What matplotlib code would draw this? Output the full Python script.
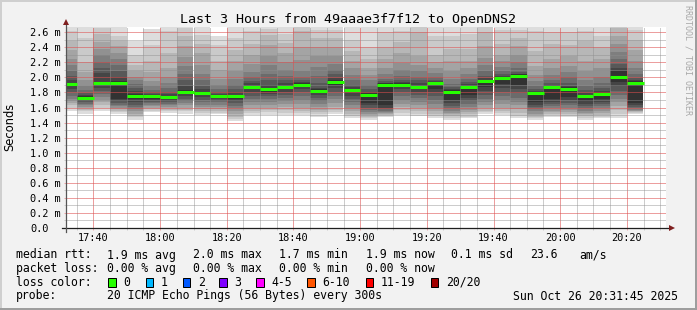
"""SmokePing style latency graph: last 3 hours from 49aaae3f7f12 to OpenDNS2."""
import matplotlib

matplotlib.use("Agg")
import matplotlib.dates as mdates
import matplotlib.pyplot as plt
import pandas as pd
from matplotlib.lines import Line2D
from matplotlib.patches import Rectangle
from matplotlib.ticker import MultipleLocator

W, H = 697, 310

SLOT_START = "2025-10-26 17:30"
VIEW_START = "2025-10-26 17:31:45"
VIEW_END = "2025-10-26 20:31:45"

# median rtt per 5 minute slot (ms)
MEDIAN_MS = [1.91, 1.73, 1.92, 1.93, 1.76, 1.75, 1.74, 1.81, 1.79, 1.75,
             1.75, 1.87, 1.84, 1.87, 1.90, 1.82, 1.94, 1.83, 1.77, 1.90,
             1.90, 1.87, 1.93, 1.81, 1.87, 1.95, 1.99, 2.02, 1.79, 1.87,
             1.85, 1.75, 1.78, 2.01, 1.93]

# the 10 fastest pings of each slot, sorted (ms)
LOW_MS = [
    [1.56, 1.60, 1.63, 1.66, 1.69, 1.72, 1.76, 1.80, 1.84, 1.88],
    [1.52, 1.55, 1.57, 1.59, 1.61, 1.63, 1.65, 1.67, 1.69, 1.71],
    [1.55, 1.60, 1.64, 1.67, 1.70, 1.74, 1.78, 1.82, 1.86, 1.90],
    [1.51, 1.54, 1.56, 1.58, 1.60, 1.62, 1.64, 1.66, 1.69, 1.72],
    [1.44, 1.47, 1.49, 1.52, 1.55, 1.58, 1.61, 1.64, 1.67, 1.71],
    [1.54, 1.56, 1.58, 1.60, 1.62, 1.64, 1.66, 1.68, 1.70, 1.72],
    [1.53, 1.55, 1.57, 1.59, 1.61, 1.63, 1.65, 1.67, 1.69, 1.71],
    [1.52, 1.55, 1.57, 1.60, 1.63, 1.66, 1.69, 1.72, 1.75, 1.78],
    [1.50, 1.53, 1.55, 1.58, 1.61, 1.64, 1.67, 1.70, 1.74, 1.77],
    [1.51, 1.53, 1.56, 1.58, 1.61, 1.64, 1.67, 1.69, 1.71, 1.73],
    [1.42, 1.45, 1.48, 1.52, 1.56, 1.59, 1.62, 1.66, 1.69, 1.72],
    [1.50, 1.53, 1.56, 1.60, 1.64, 1.68, 1.72, 1.76, 1.80, 1.84],
    [1.50, 1.54, 1.57, 1.60, 1.63, 1.67, 1.71, 1.75, 1.78, 1.81],
    [1.50, 1.53, 1.57, 1.61, 1.65, 1.69, 1.73, 1.77, 1.81, 1.84],
    [1.50, 1.53, 1.56, 1.60, 1.65, 1.70, 1.76, 1.81, 1.85, 1.87],
    [1.48, 1.51, 1.54, 1.57, 1.61, 1.65, 1.69, 1.73, 1.77, 1.80],
    [1.51, 1.54, 1.57, 1.61, 1.66, 1.71, 1.76, 1.81, 1.86, 1.90],
    [1.46, 1.49, 1.52, 1.55, 1.59, 1.63, 1.68, 1.72, 1.76, 1.80],
    [1.44, 1.46, 1.48, 1.50, 1.52, 1.54, 1.57, 1.60, 1.63, 1.66],
    [1.47, 1.49, 1.50, 1.52, 1.53, 1.54, 1.56, 1.58, 1.60, 1.63],
    [1.50, 1.53, 1.57, 1.61, 1.65, 1.70, 1.75, 1.80, 1.84, 1.87],
    [1.49, 1.52, 1.55, 1.59, 1.63, 1.68, 1.73, 1.77, 1.81, 1.84],
    [1.46, 1.49, 1.52, 1.56, 1.60, 1.65, 1.70, 1.75, 1.80, 1.85],
    [1.43, 1.46, 1.49, 1.51, 1.53, 1.56, 1.59, 1.62, 1.66, 1.70],
    [1.46, 1.48, 1.51, 1.54, 1.57, 1.61, 1.65, 1.69, 1.73, 1.77],
    [1.52, 1.54, 1.56, 1.59, 1.63, 1.67, 1.72, 1.77, 1.82, 1.87],
    [1.50, 1.53, 1.56, 1.60, 1.65, 1.70, 1.75, 1.81, 1.86, 1.91],
    [1.46, 1.49, 1.53, 1.58, 1.63, 1.68, 1.73, 1.79, 1.85, 1.90],
    [1.43, 1.46, 1.48, 1.50, 1.52, 1.55, 1.58, 1.61, 1.64, 1.68],
    [1.48, 1.50, 1.52, 1.54, 1.56, 1.59, 1.62, 1.65, 1.68, 1.72],
    [1.47, 1.49, 1.51, 1.54, 1.57, 1.60, 1.63, 1.66, 1.70, 1.74],
    [1.44, 1.46, 1.49, 1.51, 1.53, 1.56, 1.59, 1.62, 1.65, 1.69],
    [1.46, 1.48, 1.50, 1.53, 1.56, 1.59, 1.62, 1.65, 1.68, 1.72],
    [1.46, 1.52, 1.57, 1.62, 1.67, 1.72, 1.77, 1.82, 1.88, 1.94],
    [1.51, 1.53, 1.54, 1.55, 1.56, 1.57, 1.59, 1.61, 1.63, 1.66],
]

# the 10 slowest pings of each slot, sorted (ms)
HIGH_MS = [
    [1.93, 1.97, 2.02, 2.09, 2.16, 2.25, 2.36, 2.49, 2.62, 2.80],
    [1.75, 1.77, 1.79, 1.83, 1.88, 1.97, 2.07, 2.20, 2.52, 2.85],
    [1.94, 2.06, 2.13, 2.21, 2.30, 2.38, 2.47, 2.58, 2.66, 2.75],
    [1.95, 2.01, 2.08, 2.17, 2.25, 2.33, 2.42, 2.48, 2.55, 2.80],
    [1.78, 1.82, 1.86, 1.91, 1.96, 2.01, 2.08, 2.17, 2.30, 2.49],
    [1.77, 1.78, 1.80, 1.83, 1.88, 1.95, 2.07, 2.22, 2.43, 2.64],
    [1.76, 1.78, 1.81, 1.86, 1.92, 2.00, 2.12, 2.33, 2.62, 2.80],
    [1.83, 1.88, 1.96, 2.05, 2.15, 2.27, 2.42, 2.55, 2.66, 2.78],
    [1.81, 1.84, 1.89, 1.96, 2.05, 2.16, 2.32, 2.45, 2.56, 2.75],
    [1.77, 1.78, 1.81, 1.85, 1.90, 1.98, 2.10, 2.22, 2.43, 2.55],
    [1.77, 1.80, 1.84, 1.90, 1.98, 2.09, 2.22, 2.36, 2.52, 2.76],
    [1.89, 1.92, 1.95, 2.00, 2.07, 2.18, 2.30, 2.45, 2.62, 2.75],
    [1.86, 1.90, 1.96, 2.05, 2.16, 2.28, 2.43, 2.56, 2.65, 2.78],
    [1.89, 1.92, 1.96, 2.02, 2.10, 2.20, 2.33, 2.46, 2.58, 2.75],
    [1.92, 1.94, 1.96, 2.01, 2.09, 2.23, 2.40, 2.62, 2.70, 2.75],
    [1.84, 1.86, 1.92, 2.02, 2.14, 2.28, 2.40, 2.52, 2.63, 2.68],
    [1.96, 1.99, 2.04, 2.10, 2.18, 2.28, 2.40, 2.52, 2.63, 2.75],
    [1.85, 1.87, 1.90, 1.96, 2.03, 2.12, 2.22, 2.35, 2.50, 2.76],
    [1.79, 1.81, 1.85, 1.90, 1.96, 2.03, 2.12, 2.25, 2.40, 2.78],
    [1.92, 1.93, 1.95, 1.98, 2.04, 2.12, 2.24, 2.40, 2.60, 2.78],
    [1.92, 1.94, 1.97, 2.02, 2.10, 2.19, 2.32, 2.47, 2.62, 2.76],
    [1.89, 1.92, 1.96, 2.01, 2.08, 2.16, 2.28, 2.60, 2.70, 2.78],
    [1.94, 1.95, 1.97, 2.01, 2.06, 2.12, 2.20, 2.30, 2.55, 2.76],
    [1.83, 1.84, 1.87, 1.91, 1.98, 2.08, 2.22, 2.38, 2.55, 2.74],
    [1.89, 1.91, 1.94, 1.98, 2.04, 2.12, 2.22, 2.38, 2.58, 2.76],
    [1.97, 1.99, 2.02, 2.08, 2.16, 2.26, 2.42, 2.60, 2.70, 2.75],
    [2.01, 2.02, 2.04, 2.08, 2.14, 2.22, 2.30, 2.45, 2.63, 2.76],
    [2.04, 2.05, 2.07, 2.12, 2.20, 2.30, 2.42, 2.52, 2.63, 2.78],
    [1.81, 1.82, 1.85, 1.89, 1.95, 2.03, 2.15, 2.35, 2.62, 2.75],
    [1.89, 1.90, 1.93, 1.97, 2.03, 2.12, 2.25, 2.45, 2.60, 2.75],
    [1.87, 1.89, 1.93, 2.00, 2.07, 2.15, 2.28, 2.43, 2.60, 2.76],
    [1.77, 1.79, 1.83, 1.89, 1.97, 2.08, 2.22, 2.48, 2.62, 2.76],
    [1.80, 1.82, 1.86, 1.92, 2.00, 2.12, 2.25, 2.40, 2.55, 2.76],
    [2.08, 2.12, 2.18, 2.25, 2.34, 2.45, 2.55, 2.66, 2.72, 2.76],
    [1.95, 1.96, 1.99, 2.04, 2.12, 2.22, 2.36, 2.50, 2.63, 2.75],
]

Y_TICKS = [0.0, 0.2, 0.4, 0.6, 0.8, 1.0, 1.2, 1.4, 1.6, 1.8, 2.0, 2.2, 2.4, 2.6]
Y_TICK_LABELS = ["0.0", "0.2 m", "0.4 m", "0.6 m", "0.8 m", "1.0 m", "1.2 m",
                 "1.4 m", "1.6 m", "1.8 m", "2.0 m", "2.2 m", "2.4 m", "2.6 m"]

LOSS_LABELS = ["0", "1", "2", "3", "4-5", "6-10", "11-19", "20/20"]
LOSS_COLORS = ["#26ff00", "#00b8ff", "#0059ff", "#7e00ff",
               "#ff00ff", "#ff5500", "#ff0000", "#a10000"]

TITLE = "Last 3 Hours from 49aaae3f7f12 to OpenDNS2"
RTT_STATS = ["1.9 ms avg", "2.0 ms max", "1.7 ms min", "1.9 ms now",
             "0.1 ms sd", "23.6", "am/s"]
LOSS_STATS = ["0.00 % avg", "0.00 % max", "0.00 % min", "0.00 % now"]
PROBE = "20 ICMP Echo Pings (56 Bytes) every 300s"
STAMP = "Sun Oct 26 20:31:45 2025"

MONO = "DejaVu Sans Mono"
BACK = "#f2f2f2"
GRID = "#8f8f8f"
MGRID = "#de4f4f"
ARROW = "#7f1f1f"


def fx(x):
    return x / W


def fy(y):
    return 1 - y / H


def main():
    plt.rcParams["font.family"] = MONO
    fig = plt.figure(figsize=(W / 100, H / 100), dpi=100, facecolor=BACK)

    # frame shading
    fig.patches.append(Rectangle((0, fy(2)), 1, 2 / H, transform=fig.transFigure,
                                 color="#cfcfcf", lw=0))
    fig.patches.append(Rectangle((0, 0), 2 / W, 1, transform=fig.transFigure,
                                 color="#cfcfcf", lw=0))
    fig.patches.append(Rectangle((0, 0), 1, 2 / H, transform=fig.transFigure,
                                 color="#9e9e9e", lw=0))
    fig.patches.append(Rectangle((1 - 2 / W, 0), 2 / W, 1, transform=fig.transFigure,
                                 color="#9e9e9e", lw=0))

    ax = fig.add_axes([fx(66), fy(228), 600 / W, 201 / H])
    ax.set_facecolor("white")
    for sp in ax.spines.values():
        sp.set_visible(False)

    starts = pd.date_range(SLOT_START, periods=len(MEDIAN_MS), freq="5min")
    x = mdates.date2num(starts.to_pydatetime())
    width = 5 / 1440

    # smoke: layer i spans ping i .. ping (21-i), darker toward the median
    n_half = len(LOW_MS[0])
    for i in range(n_half):
        g = int(190 / n_half * (n_half - 1 - i)) + 50
        col = "#%02x%02x%02x" % (g, g, g)
        bottoms = [lo[i] for lo in LOW_MS]
        tops = [hi[n_half - 1 - i] for hi in HIGH_MS]
        heights = [t - b for t, b in zip(tops, bottoms)]
        ax.bar(x, heights, bottom=bottoms, width=width, align="edge",
               color=col, linewidth=0, antialiased=False, zorder=1)

    ax.hlines(MEDIAN_MS, x, x + width, colors=LOSS_COLORS[0], linewidth=2.2,
              zorder=4)

    ax.set_xlim(mdates.date2num(pd.Timestamp(VIEW_START)),
                mdates.date2num(pd.Timestamp(VIEW_END)))
    ax.set_ylim(0, 2.67)

    ax.xaxis.set_major_locator(mdates.MinuteLocator(byminute=[0, 20, 40]))
    ax.xaxis.set_minor_locator(mdates.MinuteLocator(byminute=range(0, 60, 5)))
    ax.xaxis.set_major_formatter(mdates.DateFormatter("%H:%M"))
    ax.set_yticks(Y_TICKS, Y_TICK_LABELS)
    ax.yaxis.set_minor_locator(MultipleLocator(0.1))

    # dotted rrdtool grid, drawn on top of the smoke
    ax.set_axisbelow(False)
    dots = (0, (1, 1))
    ax.grid(which="minor", color=GRID, alpha=0.45, linestyle=dots,
            linewidth=0.72, antialiased=False)
    ax.grid(which="major", color=MGRID, alpha=0.55, linestyle=dots,
            linewidth=0.72, antialiased=False)

    ax.tick_params(which="major", length=1.5, width=0.72, color="#f0a8a8",
                   labelsize=7.4, labelcolor="black")
    ax.tick_params(which="minor", length=1.5, width=0.72, color="#cccccc")
    ax.tick_params(axis="x", which="major", pad=2.2)
    ax.tick_params(axis="y", which="major", pad=24.4)
    for lbl in ax.get_yticklabels():
        lbl.set_horizontalalignment("left")

    # axes with arrows
    ax.add_line(Line2D([-4 / 600, 604 / 600], [0, 0], transform=ax.transAxes,
                       color="#1f1f1f", lw=0.9, clip_on=False, zorder=6))
    ax.add_line(Line2D([0, 0], [-4 / 201, 204 / 201], transform=ax.transAxes,
                       color="#555555", lw=0.9, clip_on=False, zorder=6))
    ax.plot([606 / 600], [0], marker=">", ms=5, color=ARROW, mew=0,
            transform=ax.transAxes, clip_on=False, zorder=7)
    ax.plot([0], [206 / 201], marker="^", ms=5, color=ARROW, mew=0,
            transform=ax.transAxes, clip_on=False, zorder=7)

    fig.text(fx(348), fy(19), TITLE, ha="center", va="center", fontsize=9.6)
    fig.text(fx(10), fy(127), "Seconds", rotation=90, ha="center", va="center",
             fontsize=8.3, family="DejaVu Sans")
    fig.text(fx(688), fy(5), "RRDTOOL / TOBI OETIKER", rotation=270, ha="center",
             va="top", fontsize=6, color="#a8a8a8")

    # legend block
    fs = 8.3
    col_x = [107, 193, 279, 366, 451, 530, 579]
    fig.text(fx(16), fy(255), "median rtt:", va="center", fontsize=fs)
    for cx, s in zip(col_x, RTT_STATS):
        fig.text(fx(cx), fy(255), s, va="center", fontsize=fs)
    fig.text(fx(16), fy(268.5), "packet loss:", va="center", fontsize=fs)
    for cx, s in zip(col_x, LOSS_STATS):
        fig.text(fx(cx), fy(268.5), s, va="center", fontsize=fs)

    fig.text(fx(16), fy(282), "loss color:", va="center", fontsize=fs)
    box_x = [108, 145.5, 182.5, 219, 256, 307, 365.5, 430.5]
    for bx, lab, c in zip(box_x, LOSS_LABELS, LOSS_COLORS):
        fig.patches.append(Rectangle((fx(bx), fy(286.5)), 7.5 / W, 9 / H,
                                     transform=fig.transFigure, facecolor=c,
                                     edgecolor="black", lw=0.72))
        fig.text(fx(bx + 15.5), fy(282), lab, va="center", fontsize=fs)

    fig.text(fx(16), fy(296), "probe:", va="center", fontsize=fs)
    fig.text(fx(107), fy(296), PROBE, va="center", fontsize=fs)
    fig.text(fx(513), fy(296), STAMP, va="center", fontsize=fs)

    fig.savefig("out.png", dpi=100, facecolor=BACK)
    plt.close(fig)


if __name__ == "__main__":
    main()
